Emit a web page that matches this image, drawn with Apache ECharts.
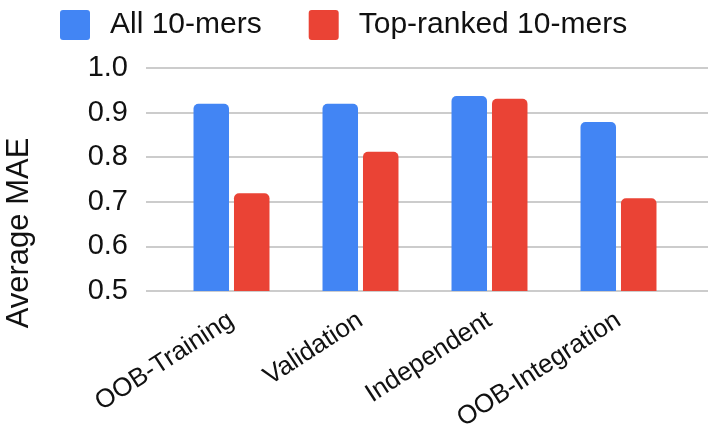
<!DOCTYPE html>
<html>
<head>
<meta charset="utf-8">
<script src="https://cdn.jsdelivr.net/npm/echarts@6/dist/echarts.min.js"></script>
<style>html,body{margin:0;padding:0;background:#fff}#c{width:708px;height:428px}</style>
</head>
<body>
<div id="c"></div>
<script>
const categories = ['OOB-Training', 'Validation', 'Independent', 'OOB-Integration'];
const allMers = [0.92, 0.92, 0.937, 0.879];
const topMers = [0.719, 0.812, 0.931, 0.708];
const seriesNames = ['All 10-mers', 'Top-ranked 10-mers'];
const yMin = 0.5, yMax = 1.0, yStep = 0.1;

const FONT = 'Liberation Sans, Arial, sans-serif';
const chart = echarts.init(document.getElementById('c'), null, {renderer: 'canvas'});
const gTop = 68, gBottom = 428 - 291;
const sq = 'path://M3,0 L27,0 Q30,0 30,3 L30,27 Q30,30 27,30 L3,30 Q0,30 0,27 L0,3 Q0,0 3,0 Z';
chart.setOption({
  animation: false,
  textStyle: {fontFamily: FONT},
  legend: {
    top: 5, left: 55,
    itemWidth: 30, itemHeight: 30, itemGap: 47,
    textStyle: {fontSize: 30, color: '#111', fontFamily: FONT, padding: [0, 0, 0, 15]},
    data: [{name: seriesNames[0], icon: sq}, {name: seriesNames[1], icon: sq}]
  },
  grid: [
    {left: 146, right: 0, top: gTop, bottom: gBottom, outerBoundsMode: 'none', containLabel: false},
    {left: 167, right: 25, top: gTop, bottom: gBottom, outerBoundsMode: 'none', containLabel: false}
  ],
  xAxis: [
    {gridIndex: 0, type: 'category', data: categories, show: false},
    {gridIndex: 1, type: 'category', data: categories,
     axisLine: {show: false}, axisTick: {show: false},
     axisLabel: {rotate: 33, fontSize: 26, color: '#111', margin: 27, fontFamily: FONT, interval: 0}}
  ],
  yAxis: [
    {gridIndex: 0, type: 'value', min: yMin, max: yMax, interval: yStep,
     axisLine: {show: false}, axisTick: {show: false},
     axisLabel: {fontSize: 29, color: '#111', margin: 18, fontFamily: FONT, formatter: v => v.toFixed(1)},
     splitLine: {lineStyle: {color: '#cccccc', width: 2}}},
    {gridIndex: 1, type: 'value', min: yMin, max: yMax, interval: yStep, show: false, splitLine: {show: false}}
  ],
  graphic: [{
    type: 'text', x: 19, y: 233, rotation: Math.PI / 2,
    style: {text: 'Average MAE', fontSize: 31, fill: '#111', fontFamily: FONT, align: 'center', verticalAlign: 'middle'}
  }],
  series: [
    {name: seriesNames[0], type: 'bar', xAxisIndex: 1, yAxisIndex: 1, data: allMers,
     barWidth: 35.5, barGap: '14%', itemStyle: {color: '#4285F4', borderRadius: [5, 5, 0, 0]}},
    {name: seriesNames[1], type: 'bar', xAxisIndex: 1, yAxisIndex: 1, data: topMers,
     barWidth: 35.5, barGap: '14%', itemStyle: {color: '#EA4335', borderRadius: [5, 5, 0, 0]}}
  ]
});
</script>
</body>
</html>
